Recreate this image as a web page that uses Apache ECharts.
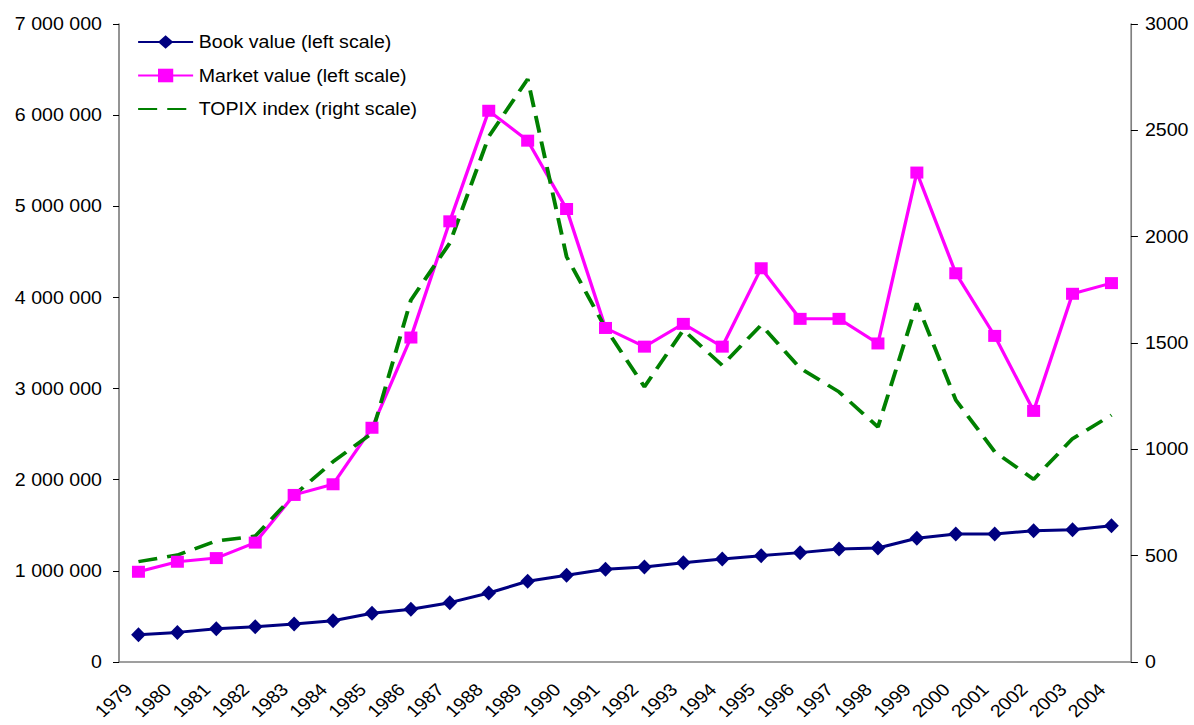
<!DOCTYPE html>
<html>
<head>
<meta charset="utf-8">
<script src="https://cdn.jsdelivr.net/npm/echarts@6/dist/echarts.min.js"></script>
<style>
  html, body { margin: 0; padding: 0; background: #fff; overflow: hidden; }
  /* the original chart is a bit stretched sideways, so draw narrower and stretch */
  #chart { width: 1066px; height: 725px; transform: scaleX(1.12); transform-origin: 0 0; }
</style>
</head>
<body>
<div id="chart"></div>
<script>
// chart data
const years = ["1979", "1980", "1981", "1982", "1983", "1984", "1985", "1986", "1987", "1988", "1989", "1990", "1991",
  "1992", "1993", "1994", "1995", "1996", "1997", "1998", "1999", "2000", "2001", "2002", "2003", "2004"];
const bookValue = [300000, 325000, 366000, 388000, 417000, 453000, 534000, 578000, 651000, 757000, 886000, 952000, 1017000,
  1043000, 1090000, 1130000, 1167000, 1200000, 1240000, 1251000, 1358000, 1405000, 1405000, 1441000, 1452000, 1496000];
const marketValue = [990000, 1100000, 1140000, 1310000, 1833000, 1950000, 2570000, 3560000, 4835000, 6048000, 5720000, 4970000, 3665000,
  3460000, 3710000, 3460000, 4320000, 3765000, 3765000, 3495000, 5370000, 4265000, 3578000, 2755000, 4040000, 4157000];
const topix = [472, 503, 569, 592, 785, 942, 1075, 1702, 1970, 2470, 2741, 1906, 1570,
  1294, 1561, 1395, 1585, 1382, 1270, 1105, 1687, 1232, 989, 859, 1050, 1161];
const leftTicks = { min: 0, max: 7000000, interval: 1000000 };
const rightTicks = { min: 0, max: 3000, interval: 500 };

const font = "'Liberation Sans', Arial, sans-serif";
const sx = 1.12; // horizontal stretch

function spaced(v) {
  return String(v).replace(/\B(?=(\d{3})+(?!\d))/g, " ");
}

let chart = echarts.init(document.getElementById("chart"), null, { renderer: "svg" });

let option = {
  backgroundColor: "#ffffff",
  animation: false,
  textStyle: { fontFamily: font },
  grid: { left: 119 / sx, right: 63 / sx, top: 24, bottom: 63, containLabel: false, outerBoundsMode: "none" },
  legend: {
    left: 137 / sx,
    top: 33,
    padding: 0,
    orient: "vertical",
    itemGap: 15.5,
    itemWidth: 55 / sx,
    itemHeight: 17,
    textStyle: { fontFamily: font, fontSize: 17.5, color: "#000" },
    data: [
      "Book value (left scale)",
      "Market value (left scale)",
      { name: "TOPIX index (right scale)", itemStyle: { color: "rgba(0,0,0,0)", borderWidth: 0 } },
    ],
  },
  xAxis: {
    type: "category",
    data: years,
    boundaryGap: true,
    axisLine: { lineStyle: { color: "#808080", width: 1.5 } },
    axisTick: { length: 6, lineStyle: { color: "#000" } },
    axisLabel: {
      rotate: 45,
      interval: 0,
      margin: 16,
      padding: [0, 12, 0, 0],
      fontFamily: font,
      fontSize: 17.5,
      color: "#000",
    },
  },
  yAxis: [
    {
      type: "value",
      min: leftTicks.min,
      max: leftTicks.max,
      interval: leftTicks.interval,
      splitLine: { show: false },
      axisLine: { show: true, lineStyle: { color: "#808080", width: 1.5 } },
      axisTick: { show: true, length: 6 / sx, lineStyle: { color: "#000" } },
      axisLabel: {
        margin: 17 / sx,
        fontFamily: font,
        fontSize: 17.5,
        color: "#000",
        formatter: (v) => spaced(v),
      },
    },
    {
      type: "value",
      position: "right",
      min: rightTicks.min,
      max: rightTicks.max,
      interval: rightTicks.interval,
      splitLine: { show: false },
      axisLine: { show: true, lineStyle: { color: "#808080", width: 1.5 } },
      axisTick: { show: true, length: 7 / sx, lineStyle: { color: "#000" } },
      axisLabel: { margin: 14 / sx, fontFamily: font, fontSize: 17.5, color: "#000", formatter: (v) => String(v) },
    },
  ],
  series: [
    {
      name: "Book value (left scale)",
      type: "line",
      yAxisIndex: 0,
      data: bookValue,
      symbol: "diamond",
      symbolSize: [14 / sx * 1.05, 15],
      lineStyle: { color: "#000080", width: 3 },
      itemStyle: { color: "#000080" },
    },
    {
      name: "Market value (left scale)",
      type: "line",
      yAxisIndex: 0,
      data: marketValue,
      symbol: "rect",
      symbolSize: [13 / sx, 12],
      lineStyle: { color: "#ff00ff", width: 3 },
      itemStyle: { color: "#ff00ff" },
    },
    {
      name: "TOPIX index (right scale)",
      type: "line",
      yAxisIndex: 1,
      data: topix,
      symbol: "none",
      lineStyle: { color: "#008000", width: 3.5, type: [17, 9] },
      itemStyle: { color: "#008000" },
    },
  ],
};

chart.setOption(option);
</script>
</body>
</html>
